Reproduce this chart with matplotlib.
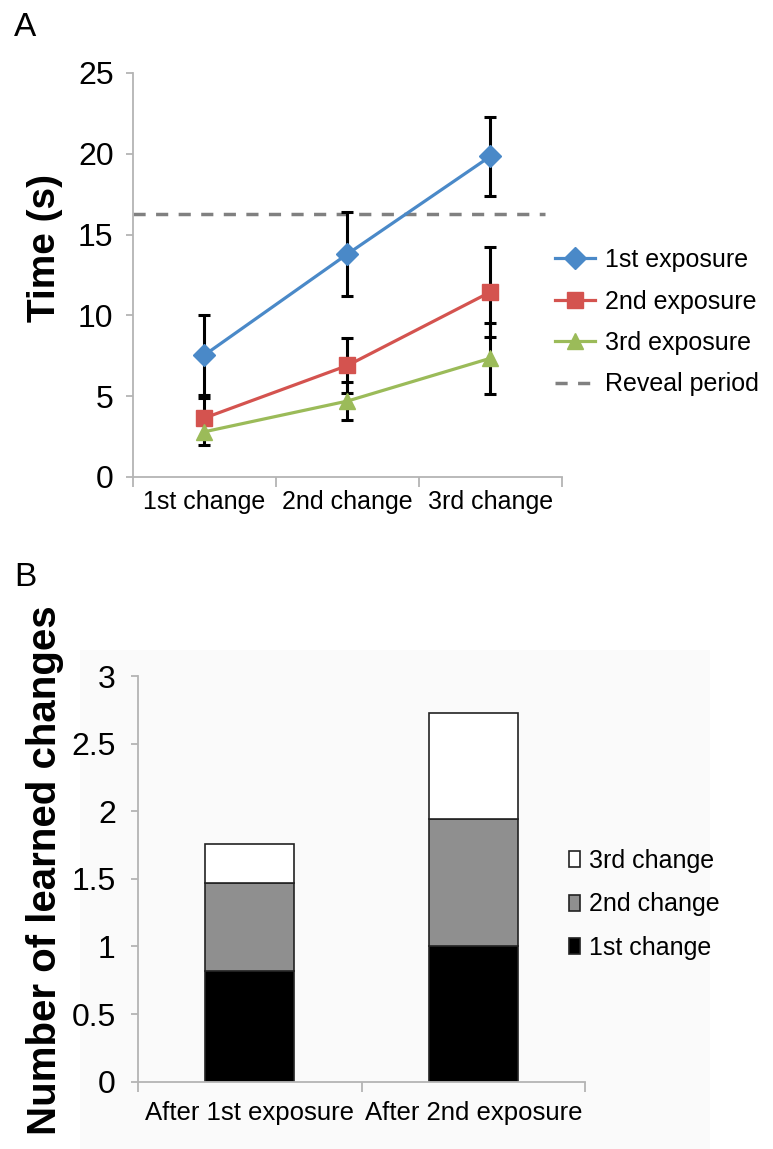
import matplotlib
matplotlib.use("Agg")
import matplotlib.pyplot as plt
from matplotlib.patches import Rectangle
from matplotlib.lines import Line2D
import numpy as np

plt.rcParams["font.family"] = ["Liberation Sans", "DejaVu Sans"]

# panel A data
changes = ["1st change", "2nd change", "3rd change"]
exposure_labels = ["1st exposure", "2nd exposure", "3rd exposure"]
exp1_time = [7.55, 13.8, 19.85]
exp1_err = [2.45, 2.6, 2.45]
exp2_time = [3.65, 6.9, 11.45]
exp2_err = [1.25, 1.7, 2.8]
exp3_time = [2.8, 4.7, 7.35]
exp3_err = [0.8, 1.2, 2.2]
reveal_period = 16.3

# panel B data
groups = ["After 1st exposure", "After 2nd exposure"]
learned_1st = [0.82, 1.0]
learned_2nd = [0.65, 0.94]
learned_3rd = [0.29, 0.79]

spine_color = "#b4b4b4"
colors = ["#4a89c8", "#d4534f", "#9bbb59"]
markers = ["D", "s", "^"]
msizes = [11, 12, 12]

fig = plt.figure(figsize=(7.73, 11.49), dpi=100)

# faint background behind panel B
bg = Rectangle((80 / 773, 0), 630 / 773, 1 - 650 / 1149, transform=fig.transFigure,
               facecolor="#fafafa", edgecolor="none", zorder=-10)
fig.patches.append(bg)


def style_axes(ax, n):
    for s in ["top", "right"]:
        ax.spines[s].set_visible(False)
    for s in ["left", "bottom"]:
        ax.spines[s].set_color(spine_color)
        ax.spines[s].set_linewidth(1.3)
    ax.set_xlim(-0.5, n - 0.5)
    ax.set_xticks(np.arange(n))
    ax.set_xticks(np.arange(n + 1) - 0.5, minor=True)
    ax.tick_params(axis="x", which="major", length=0, labelsize=18, pad=9)
    ax.tick_params(axis="x", which="minor", length=7, width=1.3, color=spine_color)
    ax.tick_params(axis="y", length=5, width=1.3, color=spine_color, labelsize=23, pad=9)
    ax.patch.set_alpha(0)


# ---- panel A ----
ax1 = fig.add_axes([133 / 773, 1 - 477 / 1149, 429 / 773, 404 / 1149])
style_axes(ax1, len(changes))
x = np.arange(len(changes))
series = [(exp1_time, exp1_err), (exp2_time, exp2_err), (exp3_time, exp3_err)]
for (vals, errs) in series:
    ax1.errorbar(x, vals, yerr=errs, fmt="none", ecolor="black", elinewidth=2.2,
                 capsize=4, capthick=2.2, zorder=2)
handles = []
for (vals, errs), c, m, ms, lab in zip(series, colors, markers, msizes, exposure_labels):
    h, = ax1.plot(x, vals, color=c, lw=2.3, marker=m, markersize=ms, label=lab, zorder=3)
    handles.append(h)
ax1.plot([-0.5, 2.38], [reveal_period, reveal_period], color="#808080", lw=2.5,
         dashes=(3.5, 3), zorder=1)
handles.append(Line2D([], [], color="#808080", lw=2.5, dashes=(3.5, 3)))
ax1.set_ylim(0, 25)
ax1.set_yticks(np.arange(0, 26, 5))
ax1.set_xticklabels(changes)
fig.legend(handles, exposure_labels + ["Reveal period"], loc="upper left",
           bbox_to_anchor=(555 / 773, 1 - 248 / 1149), frameon=False, fontsize=18,
           borderpad=0, borderaxespad=0, labelspacing=0.7, handlelength=1.6,
           handletextpad=0.4)
fig.text(45 / 773, 1 - 248 / 1149, "Time (s)", rotation=90, fontsize=28,
         fontweight="bold", ha="center", va="center")
fig.text(25 / 773, 1 - 28 / 1149, "A", fontsize=24, ha="center", va="center")

# ---- panel B ----
ax2 = fig.add_axes([138 / 773, 1 - 1081.7 / 1149, 447 / 773, 405.7 / 1149])
style_axes(ax2, len(groups))
xb = np.arange(len(groups))
b1 = ax2.bar(xb, learned_1st, width=0.4, color="black", edgecolor="#222222", lw=1.2,
             label="1st change")
b2 = ax2.bar(xb, learned_2nd, width=0.4, bottom=learned_1st, color="#8f8f8f",
             edgecolor="#222222", lw=1.2, label="2nd change")
bottom3 = np.array(learned_1st) + np.array(learned_2nd)
b3 = ax2.bar(xb, learned_3rd, width=0.4, bottom=bottom3, color="white",
             edgecolor="#222222", lw=1.2, label="3rd change")
ax2.set_ylim(0, 3)
ax2.set_yticks(np.arange(0, 3.01, 0.5))
ax2.set_yticklabels(["0", "0.5", "1", "1.5", "2", "2.5", "3"])
ax2.set_xticklabels(groups)
ax2.tick_params(axis="x", which="major", pad=14, labelsize=18.5)
ax2.tick_params(axis="y", pad=11)
fig.legend([b3, b2, b1], ["3rd change", "2nd change", "1st change"], loc="upper left",
           bbox_to_anchor=(569 / 773, 1 - 849 / 1149), frameon=False, fontsize=18,
           borderpad=0, borderaxespad=0, labelspacing=0.78, handlelength=0.45,
           handleheight=0.6, handletextpad=0.35)
fig.text(45 / 773, 1 - 870 / 1149, "Number of learned changes", rotation=90,
         fontsize=29, fontweight="bold", ha="center", va="center")
fig.text(25 / 773, 1 - 578 / 1149, "B", fontsize=24, ha="center", va="center")

plt.savefig("out.png", dpi=100)
plt.close()
